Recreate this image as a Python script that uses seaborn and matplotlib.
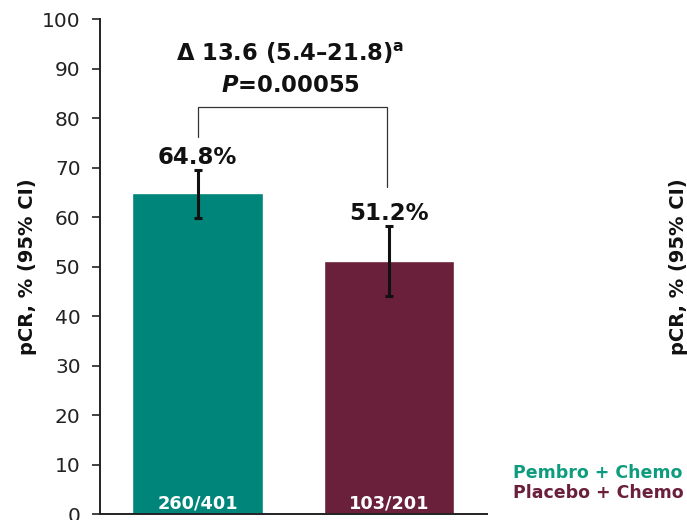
import matplotlib
matplotlib.use("Agg")
import matplotlib.pyplot as plt
import seaborn as sns
import pandas as pd

# pCR by treatment arm with 95% CI
arms = ["Pembro + Chemo", "Placebo + Chemo"]
pcr = [64.8, 51.2]
ci_low = [59.9, 44.1]
ci_high = [69.5, 58.3]
counts = ["260/401", "103/201"]
colors = ["#00857A", "#6A1F3A"]
legend_colors = ["#0E9C7E", "#6A1F3A"]
yticks = [0, 10, 20, 30, 40, 50, 60, 70, 80, 90, 100]
delta_text = "Δ 13.6 (5.4–21.8)$^{\\mathbf{a}}$"
p_text = "$P$=0.00055"
ylabel = "pCR, % (95% CI)"

sns.set_style("white")
plt.rcParams["font.family"] = ["DejaVu Sans"]
plt.rcParams["mathtext.fontset"] = "custom"
plt.rcParams["mathtext.bf"] = "DejaVu Sans:bold"
plt.rcParams["mathtext.it"] = "DejaVu Sans:bold:italic"
plt.rcParams["mathtext.rm"] = "DejaVu Sans:bold"

df = pd.DataFrame({"arm": arms, "pcr": pcr})

fig = plt.figure(figsize=(6.87, 5.2), dpi=100)
ax = fig.add_axes([0.1456, 0.0115, 0.5633, 0.9514])

sns.barplot(data=df, x="arm", y="pcr", hue="arm", palette=colors,
            width=0.684, errorbar=None, legend=False, ax=ax, saturation=1)

xs = list(range(len(arms)))
yerr = [[p - lo for p, lo in zip(pcr, ci_low)],
        [hi - p for p, hi in zip(pcr, ci_high)]]
ax.errorbar(xs, pcr, yerr=yerr, fmt="none", ecolor="#111111",
            elinewidth=2.2, capsize=2.6, capthick=2.2, zorder=3)

# value labels above the CI
for x, hi, v in zip(xs, ci_high, pcr):
    ax.text(x, hi + 1.2, f"{v}%", ha="center", va="baseline",
            fontsize=16.5, fontweight="bold", color="#111111")

# responders / patients inside the bars
for x, c in zip(xs, counts):
    ax.text(x, 2.2, c, ha="center", va="center", fontsize=12.8,
            fontweight="bold", color="white")

# comparison bracket
ax.plot([0, 0, 0.99, 0.99], [76.3, 82.2, 82.2, 66.1], color="#333333",
        lw=0.9, solid_joinstyle="miter")
ax.text(0.483, 93.2, delta_text, ha="center", va="center", fontsize=16.3,
        fontweight="bold", color="#111111")
ax.text(0.483, 86.7, p_text, ha="center", va="center", fontsize=16.3,
        fontweight="bold", color="#111111")

ax.set_xlim(-0.51, 1.512)
ax.set_ylim(0, 100)
ax.set_yticks(yticks)
ax.set_yticklabels([str(t) for t in yticks], fontsize=14.5, color="#222222")
ax.set_xticks([])
ax.set_xlabel("")
ax.set_ylabel(ylabel, fontsize=14, fontweight="bold", color="#111111")
ax.yaxis.set_label_coords(-0.163, 0.5)
ax.tick_params(axis="y", direction="out", length=6, width=1.2,
               color="#222222", left=True, pad=8)
for side in ["top", "right"]:
    ax.spines[side].set_visible(False)
for side in ["left", "bottom"]:
    ax.spines[side].set_color("#222222")
    ax.spines[side].set_linewidth(1.4)

# neighbouring panel's axis label and arm key at the right edge
fig.text(679 / 687, 1 - 267 / 520, ylabel, rotation=90, ha="center",
         va="center", fontsize=14, fontweight="bold", color="#111111")
fig.text(513 / 687, 1 - 473 / 520, arms[0], ha="left", va="center",
         fontsize=12.5, fontweight="bold", color=legend_colors[0])
fig.text(513 / 687, 1 - 493 / 520, arms[1], ha="left", va="center",
         fontsize=12.5, fontweight="bold", color=legend_colors[1])

fig.savefig("out.png", dpi=100)
